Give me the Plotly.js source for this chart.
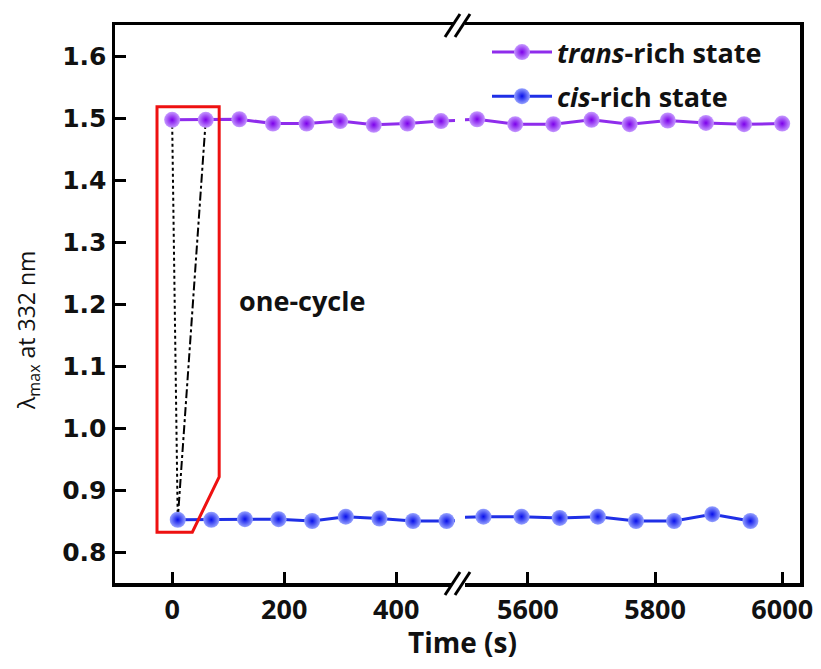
<!DOCTYPE html>
<html>
<head>
<meta charset="utf-8">
<script src="https://cdn.plot.ly/plotly-3.0.1.min.js"></script>
<style>html,body{margin:0;padding:0;background:#fff;}#chart{width:821px;height:669px;}</style>
</head>
<body>
<div id="chart"></div>
<script>
// ---- data ----
const transTimeA = [0, 60, 120, 180, 240, 300, 360, 420, 480, 540];
const transValA  = [1.497, 1.497, 1.498, 1.491, 1.491, 1.495, 1.489, 1.491, 1.495, 1.497];
const transTimeB = [5460, 5520, 5580, 5640, 5700, 5760, 5820, 5880, 5940, 6000];
const transValB  = [1.495, 1.498, 1.490, 1.490, 1.497, 1.490, 1.496, 1.492, 1.490, 1.491];
const cisTimeA = [10, 70, 130, 190, 250, 310, 370, 430, 490, 550];
const cisValA  = [0.852, 0.852, 0.853, 0.853, 0.850, 0.857, 0.854, 0.850, 0.850, 0.852];
const cisTimeB = [5470, 5530, 5590, 5650, 5710, 5770, 5830, 5890, 5950];
const cisValB  = [0.855, 0.857, 0.857, 0.855, 0.857, 0.850, 0.850, 0.861, 0.850];
const xTicksA = [0, 200, 400];
const xTicksB = [5600, 5800, 6000];
const yTicks = [0.8, 0.9, 1.0, 1.1, 1.2, 1.3, 1.4, 1.5, 1.6];
const seriesNames = ['<i>trans</i>-rich state', '<i>cis</i>-rich state'];

// ---- geometry helpers ----
const W = 821, H = 669, L = 115, R = 800, T = 25, B = 583;
const px = x => (x - L) / (R - L);
const py = y => 1 - (y - T) / (B - T);

const transStyle = {
  mode: 'lines+markers',
  line: {color: '#8f2cec', width: 3},
  marker: {size: 16, color: '#c599ff', gradient: {type: 'radial', color: '#7c00ea'}, line: {width: 0}}
};
const cisStyle = {
  mode: 'lines+markers',
  line: {color: '#1f2fe6', width: 3},
  marker: {size: 16, color: '#96a2ff', gradient: {type: 'radial', color: '#0810ea'}, line: {width: 0}}
};

const traces = [
  Object.assign({x: transTimeA, y: transValA, xaxis: 'x', yaxis: 'y', name: seriesNames[0], legendgroup: 'a', showlegend: true}, transStyle),
  Object.assign({x: cisTimeA, y: cisValA, xaxis: 'x', yaxis: 'y', name: seriesNames[1], legendgroup: 'b', showlegend: true}, cisStyle),
  Object.assign({x: transTimeB, y: transValB, xaxis: 'x2', yaxis: 'y2', name: seriesNames[0], legendgroup: 'a', showlegend: false}, transStyle),
  Object.assign({x: cisTimeB, y: cisValB, xaxis: 'x2', yaxis: 'y2', name: seriesNames[1], legendgroup: 'b', showlegend: false}, cisStyle)
];

const tickFontX = {family: 'Open Sans', size: 27, color: '#111', weight: 'bold'};
const tickFontY = {family: 'DejaVu Sans', size: 25, color: '#111', weight: 'bold'};

const shapes = [];
// connector lines for one cycle
shapes.push({type: 'line', xref: 'x', yref: 'y', layer: 'below',
  x0: transTimeA[0], y0: transValA[0], x1: cisTimeA[0], y1: cisValA[0],
  line: {color: '#000', width: 2, dash: 'dot'}});
shapes.push({type: 'line', xref: 'x', yref: 'y', layer: 'below',
  x0: transTimeA[1], y0: transValA[1], x1: cisTimeA[0], y1: cisValA[0],
  line: {color: '#000', width: 2, dash: 'dashdot'}});
// red highlight box
shapes.push({type: 'path', xref: 'x', yref: 'y', layer: 'above',
  path: 'M -27,1.518 L 84,1.518 L 84,0.921 L 36,0.832 L -27,0.832 Z',
  line: {color: '#ee1111', width: 3}, fillcolor: 'rgba(0,0,0,0)'});
// axis break marks (top & bottom)
[T, B].forEach(yy => {
  shapes.push({type: 'path', xref: 'paper', yref: 'paper', layer: 'above',
    path: `M ${px(448)},${py(yy+9)} L ${px(459)},${py(yy-9)} L ${px(467)},${py(yy-9)} L ${px(456)},${py(yy+9)} Z`,
    line: {width: 0}, fillcolor: '#fff'});
  shapes.push({type: 'line', xref: 'paper', yref: 'paper', layer: 'above',
    x0: px(445), y0: py(yy+12), x1: px(460), y1: py(yy-11), line: {color: '#000', width: 3}});
  shapes.push({type: 'line', xref: 'paper', yref: 'paper', layer: 'above',
    x0: px(455), y0: py(yy+12), x1: px(470), y1: py(yy-11), line: {color: '#000', width: 3}});
});

const axisCommon = {
  showline: true, linecolor: '#000', linewidth: 3.5, mirror: true,
  ticks: 'inside', ticklen: 11, tickwidth: 3, tickcolor: '#000',
  showgrid: false, zeroline: false, fixedrange: true
};

const layout = {
  width: W, height: H,
  margin: {l: L, r: W - R, t: T, b: H - B},
  paper_bgcolor: '#fff', plot_bgcolor: '#fff',
  showlegend: true,
  legend: {x: px(487), xanchor: 'left', y: py(28), yanchor: 'top', itemwidth: 60,
    font: {family: 'Open Sans', size: 27, color: '#111', weight: 'bold'},
    bgcolor: 'rgba(0,0,0,0)', tracegroupgap: 6, traceorder: 'grouped'},
  xaxis: Object.assign({}, axisCommon, {domain: [0, px(455)], range: [-102, 505], anchor: 'y',
    tickmode: 'array', tickvals: xTicksA, ticktext: xTicksA.map(String), tickfont: tickFontX}),
  xaxis2: Object.assign({}, axisCommon, {domain: [px(465), 1], range: [5501, 6028], anchor: 'y2',
    tickmode: 'array', tickvals: xTicksB, ticktext: xTicksB.map(String), tickfont: tickFontX}),
  yaxis: Object.assign({}, axisCommon, {range: [0.75, 1.65], anchor: 'x', mirror: false,
    tickmode: 'array', tickvals: yTicks, ticktext: yTicks.map(v => v.toFixed(1)), tickfont: tickFontY}),
  yaxis2: Object.assign({}, axisCommon, {range: [0.75, 1.65], anchor: 'x2', side: 'right', mirror: false,
    ticks: '', showticklabels: false}),
  shapes: shapes,
  annotations: [
    {text: 'one-cycle', xref: 'x', yref: 'y', x: 116, y: 1.206, xanchor: 'left', yanchor: 'middle',
      showarrow: false, font: {family: 'Open Sans', size: 27, color: '#111', weight: 'bold'}},
    {text: 'Time (s)', xref: 'paper', yref: 'paper', x: px(462), y: py(642), xanchor: 'center', yanchor: 'middle',
      showarrow: false, font: {family: 'Open Sans', size: 28, color: '#111', weight: 'bold'}},
    {text: 'λ<sub>max</sub> at 332 nm', xref: 'paper', yref: 'paper', x: px(27), y: py(331), xanchor: 'center', yanchor: 'middle',
      textangle: -90, showarrow: false, font: {family: 'Open Sans', size: 23, color: '#111'}}
  ]
};

Plotly.newPlot('chart', traces, layout, {displayModeBar: false, staticPlot: true});
</script>
</body>
</html>
